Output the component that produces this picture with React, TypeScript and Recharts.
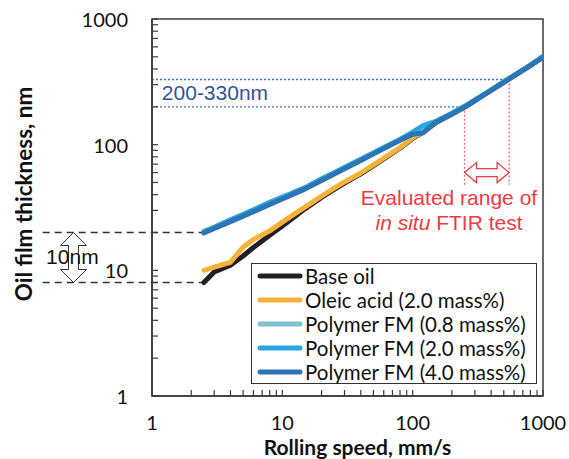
import React from 'react';
import { LineChart, Line, XAxis, YAxis, ReferenceLine, ReferenceArea, ReferenceDot, Legend } from 'recharts';

if (typeof document !== 'undefined') {
  document.body.style.margin = '0';
}

// ---- data ----
const speeds = [2.5, 3, 4, 5, 6, 8, 10, 12, 15, 20, 25, 30, 40, 50, 60, 80, 100, 120, 150, 200, 250, 300, 400, 500, 600, 800, 1000];
const baseOil = [8.0, 9.7, 11.0, 13.0, 15.2, 19.0, 22.5, 26, 31, 38, 44, 49.5, 58.5, 68, 77, 94, 112, 126, 149, 175, 198, 224, 271, 316, 354, 427, 500];
const oleicAcid = [10.0, 10.6, 11.6, 15.3, 17.6, 20.6, 24.2, 27.5, 32, 39, 45, 50.5, 59.5, 69, 78, 95, 113, 127, 150, 176, 199, 225, 272, 318, 355, 428, 502];
const polymer08 = [20.5, 22, 25, 27.8, 30, 34.5, 38, 41.5, 45.5, 53, 59.5, 65.5, 76, 86, 94, 110, 124, 135, 152, 177, 201, 226, 272, 315, 354, 428, 500];
const polymer20 = [20.2, 22, 25.2, 27.8, 30.3, 34.8, 38.3, 41.2, 45.5, 53.5, 59.8, 66, 76.5, 86, 95, 110, 126, 142, 153, 178, 202, 226, 272, 316, 356, 430, 505];
const polymer40 = [19.8, 21.5, 24.4, 27, 29.3, 33.4, 37, 40.2, 44.5, 51.8, 58.5, 64.3, 74.8, 84.5, 93, 108.5, 121, 124, 150, 175, 199, 224, 270, 312, 352, 425, 495];

const seriesKeys = ['base', 'oleic', 'p08', 'p20', 'p40'];
const seriesNames = ['Base oil', 'Oleic acid (2.0 mass%)', 'Polymer FM (0.8 mass%)', 'Polymer FM (2.0 mass%)', 'Polymer FM (4.0 mass%)'];
const seriesColors = ['#231F20', '#F6B23A', '#7FC3D3', '#2AA7DF', '#2C74B5'];
const seriesValues = [baseOil, oleicAcid, polymer08, polymer20, polymer40];

const logTicks = [1, 2, 3, 4, 5, 6, 7, 8, 9, 10, 20, 30, 40, 50, 60, 70, 80, 90, 100, 200, 300, 400, 500, 600, 700, 800, 900, 1000];
const majorTicks = [1, 10, 100, 1000];

// annotation values
const filmLow = 200;
const filmHigh = 330;
const speedLow = 250;
const speedHigh = 550;
const thinLow = 8;
const thinHigh = 20;

const table = speeds.map((s, i) => {
  const row: any = { speed: s };
  seriesKeys.forEach((k, j) => { row[k] = seriesValues[j][i]; });
  return row;
});

const LABEL_FONT = 'Lato, "Noto Sans", sans-serif';
const ARIAL = '"Liberation Sans", Arial, sans-serif';
const AXIS_COLOR = '#3a3a3a';
const RED = '#EE3A43';

const XTick = (props: any) => {
  const { x, y, payload } = props;
  const v = payload.value;
  const major = majorTicks.includes(v);
  return (
    <g>
      <line x1={x} y1={y} x2={x} y2={y - 6} stroke={AXIS_COLOR} strokeWidth={1.2} />
      {major && (
        <text x={x} y={y + 34} textAnchor="middle" fontSize={20} fontFamily={LABEL_FONT} fill="#111">{v}</text>
      )}
    </g>
  );
};

const YTick = (props: any) => {
  const { x, y, payload } = props;
  const v = payload.value;
  const major = majorTicks.includes(v);
  return (
    <g>
      <line x1={x} y1={y} x2={x + 6} y2={y} stroke={AXIS_COLOR} strokeWidth={1.2} />
      {major && (
        <text x={x - 24} y={y + 8} textAnchor="end" fontSize={20} fontFamily={LABEL_FONT} fill="#111">{v}</text>
      )}
    </g>
  );
};

const HArrow = (props: any) => {
  const { x1, y1, x2 } = props;
  const hl = 12, hh = 10, bh = 4;
  const cy = y1;
  const d = `M${x1},${cy} L${x1 + hl},${cy - hh} L${x1 + hl},${cy - bh} L${x2 - hl},${cy - bh} L${x2 - hl},${cy - hh} L${x2},${cy} L${x2 - hl},${cy + hh} L${x2 - hl},${cy + bh} L${x1 + hl},${cy + bh} L${x1 + hl},${cy + hh} Z`;
  return <path d={d} fill="#fff" stroke={RED} strokeWidth={1.3} />;
};

const VArrow = (props: any) => {
  const { x1, y1, y2 } = props;
  const top = Math.min(y1, y2), bot = Math.max(y1, y2);
  const hl = 13, hw = 13, bw = 5;
  const cx = x1;
  const d = `M${cx},${top} L${cx + hw},${top + hl} L${cx + bw},${top + hl} L${cx + bw},${bot - hl} L${cx + hw},${bot - hl} L${cx},${bot} L${cx - hw},${bot - hl} L${cx - bw},${bot - hl} L${cx - bw},${top + hl} L${cx - hw},${top + hl} Z`;
  return <path d={d} fill="#fff" stroke="#333" strokeWidth={1} />;
};

const textShape = (content: React.ReactNode, color: string, size: number, anchor: string = 'middle') => (p: any) => (
  <text x={p.cx} y={p.cy} textAnchor={anchor} dominantBaseline="central" fontSize={size} fontFamily={ARIAL} fill={color}>{content}</text>
);

const LegendBox = (props: any) => {
  const payload = props.payload || [];
  return (
    <div style={{ border: '1px solid #333', background: '#fff', padding: '0 0 0 5px', boxSizing: 'border-box', width: 286, height: 121, fontFamily: LABEL_FONT }}>
      {payload.map((e: any) => (
        <div key={e.value} style={{ display: 'flex', alignItems: 'center', height: 24, fontSize: 20.5, color: '#111', lineHeight: '24px' }}>
          <svg width={46} height={10} style={{ marginRight: 2 }}>
            <line x1={3} y1={5} x2={43} y2={5} stroke={e.color} strokeWidth={5} strokeLinecap="round" />
          </svg>
          <span>{e.value}</span>
        </div>
      ))}
    </div>
  );
};

const YTitle = (p: any) => {
  const cx = 23;
  const cy = 194;
  return (
    <text x={cx} y={cy} transform={`rotate(-90, ${cx}, ${cy})`} textAnchor="middle" dominantBaseline="central" fontSize={22.5} fontWeight="bold" fontFamily={LABEL_FONT} fill="#111">Oil film thickness, nm</text>
  );
};

const XTitle = (p: any) => {
  const vb = p.viewBox || { x: 152, y: 396, width: 391, height: 63 };
  return (
    <text x={vb.x + vb.width / 2 + 10} y={vb.y + 59} textAnchor="middle" fontSize={21} fontWeight="bold" fontFamily={LABEL_FONT} fill="#111">Rolling speed, mm/s</text>
  );
};

export default function App() {
  return (
    <LineChart width={569} height={459} data={table} margin={{ top: 19, right: 26, bottom: 0, left: 0 }}>
      <XAxis dataKey="speed" type="number" scale="log" domain={[1, 1000]} allowDataOverflow ticks={logTicks} interval={0}
        tickSize={0} tickMargin={0} tickLine={false} height={63} tick={XTick}
        axisLine={{ stroke: AXIS_COLOR, strokeWidth: 1.5 }} label={{ content: XTitle }} />
      <YAxis type="number" scale="log" domain={[1, 1000]} allowDataOverflow ticks={logTicks} interval={0}
        tickSize={0} tickMargin={0} tickLine={false} width={152} tick={YTick}
        axisLine={{ stroke: AXIS_COLOR, strokeWidth: 1.5 }} label={{ content: YTitle }} />
      <ReferenceArea x1={1} x2={1000} y1={1} y2={1000} fill="none" fillOpacity={0} stroke={AXIS_COLOR} strokeWidth={1.5} ifOverflow="visible" />

      <ReferenceLine segment={[{ x: 1, y: filmLow }, { x: speedLow, y: filmLow }]} stroke="#4472C4" strokeWidth={1.3} strokeDasharray="2 2" />
      <ReferenceLine segment={[{ x: 1, y: filmHigh }, { x: speedHigh, y: filmHigh }]} stroke="#4472C4" strokeWidth={1.3} strokeDasharray="2 2" />
      <ReferenceLine segment={[{ x: speedLow, y: filmLow }, { x: speedLow, y: 48 }]} stroke="#F0606A" strokeWidth={1.3} strokeDasharray="2 2" />
      <ReferenceLine segment={[{ x: speedHigh, y: filmHigh }, { x: speedHigh, y: 48 }]} stroke="#F0606A" strokeWidth={1.3} strokeDasharray="2 2" />
      <ReferenceLine segment={[{ x: speedLow, y: 60 }, { x: speedHigh, y: 60 }]} shape={HArrow} />

      <ReferenceLine segment={[{ x: 0.145, y: thinHigh }, { x: 2.5, y: thinHigh }]} stroke="#333" strokeWidth={1.5} strokeDasharray="7 5" ifOverflow="visible" />
      <ReferenceLine segment={[{ x: 0.145, y: thinLow }, { x: 2.5, y: thinLow }]} stroke="#333" strokeWidth={1.5} strokeDasharray="7 5" ifOverflow="visible" />
      <ReferenceLine segment={[{ x: 0.25, y: thinHigh }, { x: 0.25, y: thinLow }]} shape={VArrow} ifOverflow="visible" />
      <ReferenceDot x={0.245} y={12.8} r={0} ifOverflow="visible" shape={textShape('10nm', '#111', 21)} />

      <ReferenceDot x={1.19} y={262} r={0} ifOverflow="visible" shape={textShape('200-330nm', '#2F5597', 21, 'start')} />
      <ReferenceDot x={190} y={38.3} r={0} ifOverflow="visible" shape={textShape('Evaluated range of', RED, 21)} />
      <ReferenceDot x={190} y={24.2} r={0} ifOverflow="visible" shape={textShape(<><tspan fontStyle="italic">in situ</tspan> FTIR test</>, RED, 21)} />

      {seriesKeys.map((k, i) => (
        <Line key={k} dataKey={k} name={seriesNames[i]} stroke={seriesColors[i]} strokeWidth={5} dot={false}
          isAnimationActive={false} strokeLinejoin="round" strokeLinecap="round" />
      ))}

      <Legend layout="horizontal" verticalAlign="middle" align="center" content={LegendBox}
        wrapperStyle={{ left: 251, top: 263, width: 286, height: 121 }} />
    </LineChart>
  );
}
